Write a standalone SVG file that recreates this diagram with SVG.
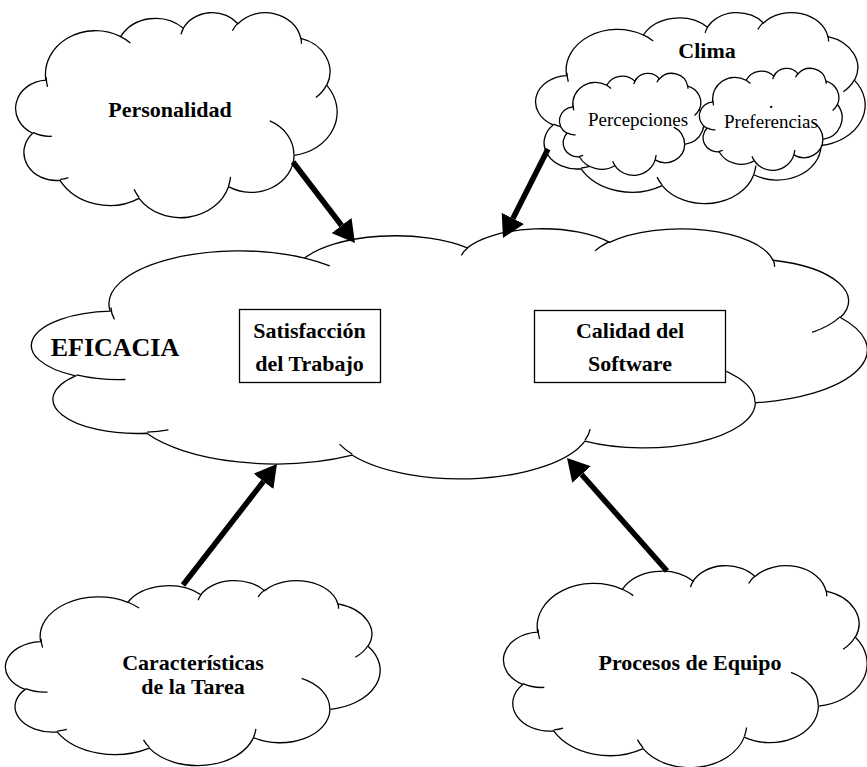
<svg xmlns="http://www.w3.org/2000/svg" xmlns:xlink="http://www.w3.org/1999/xlink" width="867" height="767" viewBox="0 0 867 767">
  <style>
    .cloud { fill: #ffffff; stroke: #000000; stroke-width: 1.3; vector-effect: non-scaling-stroke; }
    .fold { fill: none; stroke: #000000; stroke-width: 1.3; vector-effect: non-scaling-stroke; }
    .box { fill: #ffffff; stroke: #000000; stroke-width: 1.3; }
    .lbl { font-family: "Liberation Serif", "Times New Roman", serif; font-weight: bold; font-size: 22px; fill: #000000; text-anchor: middle; }
    .sub { font-family: "Liberation Serif", "Times New Roman", serif; font-size: 19px; fill: #000000; text-anchor: middle; }
    .big { font-size: 26px; }
    .conn { fill: none; stroke: #000000; stroke-width: 5.5; marker-end: url(#head); }
  </style>
  <defs>
    <!-- cloud outline on a 100 x 100 unit box -->
    <g id="cloud">
      <path class="cloud" d="M9.03,33.26 A15.63,21.27 0 0 1 32.41,12.04 A12.34,16.82 0 0 1 51.97,7.94 A10.10,13.76 0 0 1 69.05,5.74 A11.24,15.27 0 0 1 88.69,12.90 A12.34,16.84 0 0 1 96.80,35.78 A15.68,21.34 0 0 1 86.58,69.90 A13.39,18.21 0 0 1 66.09,85.21 A15.63,21.33 0 0 1 38.14,90.88 A17.87,24.41 0 0 1 13.43,82.10 A10.09,13.70 0 0 1 4.88,59.13 A10.06,13.76 0 0 1 9.03,33.26 Z"/>
      <path class="fold" d="M10.86,60.60 A10.06,13.76 0 0 1 5.00,58.75 M16.04,80.78 A10.09,13.70 0 0 1 13.47,81.67 M38.14,90.49 A15.63,21.33 0 0 1 36.60,86.46 M66.73,80.44 A15.63,21.33 0 0 1 66.11,84.86 M79.00,53.13 A13.39,18.21 0 0 1 86.53,69.65 M96.75,35.54 A12.34,16.84 0 0 1 93.40,41.74 M88.71,12.56 A11.24,15.27 0 0 1 88.89,15.49 M67.31,9.15 A11.24,15.27 0 0 1 69.03,5.42 M51.25,10.93 A10.10,13.76 0 0 1 52.08,7.71 M32.41,12.02 A15.63,21.27 0 0 1 35.43,15.15 M9.55,36.55 A15.63,21.27 0 0 1 9.13,31.81"/>
    </g>
    <marker id="head" markerUnits="userSpaceOnUse" viewBox="0 0 22 25" markerWidth="22" markerHeight="25" refX="0" refY="12.5" orient="auto">
      <path d="M0,0 L22,12.5 L0,25 Z" fill="#000000"/>
    </marker>
  </defs>

  <!-- central cloud -->
  <g id="eficacia">
    <use xlink:href="#cloud" href="#cloud" transform="translate(35,228) scale(8.32,2.5)"/>
    <text class="lbl big" x="115" y="356">EFICACIA</text>
    <g id="satisfaccion">
      <rect class="box" x="239.5" y="309.5" width="141" height="73"/>
      <text class="lbl" x="309.5" y="338">Satisfacción</text>
      <text class="lbl" x="309.5" y="371">del Trabajo</text>
    </g>
    <g id="calidad">
      <rect class="box" x="534.5" y="310.5" width="191" height="72"/>
      <text class="lbl" x="630" y="338">Calidad del</text>
      <text class="lbl" x="630" y="371">Software</text>
    </g>
  </g>

  <g id="personalidad">
    <use xlink:href="#cloud" href="#cloud" transform="translate(17,12) scale(3.2,2.05)"/>
    <text class="lbl" x="170" y="117">Personalidad</text>
  </g>

  <g id="clima">
    <use xlink:href="#cloud" href="#cloud" transform="translate(537,12) scale(3.28,1.91)"/>
    <text class="lbl" x="707" y="58">Clima</text>
    <g id="percepciones">
      <use xlink:href="#cloud" href="#cloud" transform="translate(560,73) scale(1.44,1.02)"/>
      <text class="sub" x="638" y="126">Percepciones</text>
    </g>
    <g id="preferencias">
      <use xlink:href="#cloud" href="#cloud" transform="translate(700,68) scale(1.42,1.02)"/>
      <text class="sub" x="771" y="108" font-size="10">.</text>
      <text class="sub" x="771" y="128">Preferencias</text>
    </g>
  </g>

  <g id="caracteristicas">
    <use xlink:href="#cloud" href="#cloud" transform="translate(7,580) scale(3.73,1.85)"/>
    <text class="lbl" x="193" y="670">Características</text>
    <text class="lbl" x="193" y="694">de la Tarea</text>
  </g>

  <g id="procesos">
    <use xlink:href="#cloud" href="#cloud" transform="translate(505,565) scale(3.62,2.02)"/>
    <text class="lbl" x="690" y="670">Procesos de Equipo</text>
  </g>

  <!-- influence arrows into the central cloud -->
  <g id="connectors">
    <line class="conn" x1="293" y1="162" x2="341.6" y2="225.5"/>
    <line class="conn" x1="548" y1="149" x2="512.9" y2="218.4"/>
    <line class="conn" x1="183" y1="585" x2="263.5" y2="481.4"/>
    <line class="conn" x1="667" y1="571" x2="581.6" y2="474.5"/>
  </g>
</svg>
